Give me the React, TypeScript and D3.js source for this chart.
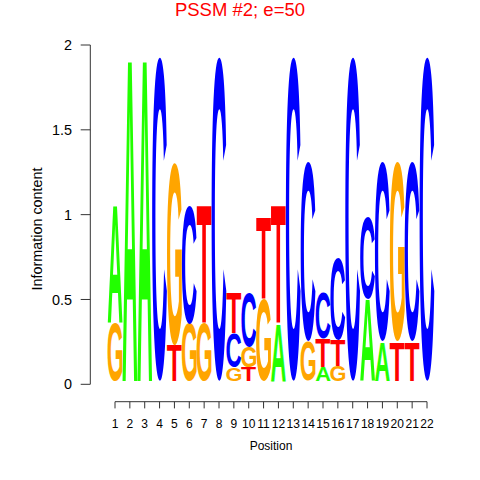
import React from "react";
import * as d3 from "d3";

// Sequence logo data: letters per position, stacked bottom -> top, with heights (bits)
const positions = d3.range(1, 23);
const letters: string[][] = [
  ["G", "A"],
  ["A"],
  ["A"],
  ["C"],
  ["T", "G"],
  ["G", "C"],
  ["G", "T"],
  ["C"],
  ["G", "C", "T"],
  ["T", "G", "C"],
  ["G", "T"],
  ["A", "T"],
  ["C"],
  ["G", "C"],
  ["A", "T", "C"],
  ["G", "T", "C"],
  ["C"],
  ["A", "C"],
  ["A", "C"],
  ["T", "G"],
  ["T", "C"],
  ["C"],
];
const heights: number[][] = [
  [0.34, 0.7],
  [1.91],
  [1.91],
  [1.91],
  [0.21, 1.075],
  [0.34, 0.7],
  [0.34, 0.7],
  [1.91],
  [0.08, 0.2, 0.24],
  [0.08, 0.12, 0.32],
  [0.48, 0.48],
  [0.34, 0.7],
  [1.91],
  [0.23, 1.055],
  [0.08, 0.17, 0.27],
  [0.09, 0.15, 0.48],
  [1.91],
  [0.48, 0.48],
  [0.23, 1.055],
  [0.23, 1.055],
  [0.23, 1.055],
  [1.91],
];
const yTicks = [0, 0.5, 1, 1.5, 2];
const yTickLabels = ["0", "0.5", "1", "1.5", "2"];
const title = "PSSM #2; e=50";
const xLabel = "Position";
const yLabel = "Information content";

const colors: Record<string, string> = {
  A: "#22ff00",
  C: "#0000ff",
  G: "#ffa500",
  T: "#ff0000",
};

const FONT = '"Liberation Sans", Arial, Helvetica, sans-serif';

type Ink = { x0: number; x1: number; y0: number; y1: number };
const inkCache: Record<string, Ink> = {};
function ink(ch: string): Ink {
  if (inkCache[ch]) return inkCache[ch];
  const c = document.createElement("canvas");
  const ctx = c.getContext("2d")!;
  ctx.font = `bold 100px ${FONT}`;
  const m = ctx.measureText(ch);
  const r = {
    x0: -m.actualBoundingBoxLeft,
    x1: m.actualBoundingBoxRight,
    y0: -m.actualBoundingBoxAscent,
    y1: m.actualBoundingBoxDescent,
  };
  inkCache[ch] = r;
  return r;
}

export default function App() {
  const W = 480;
  const H = 480;
  const x = d3.scaleLinear().domain([1, 22]).range([115, 427]);
  const y = d3.scaleLinear().domain([0, 2]).range([384.3, 45]);
  const step = x(2) - x(1);
  const base = y(0) - 3.4;
  const unit = y(0) - y(1);

  const glyphs: React.ReactNode[] = [];
  positions.forEach((p, i) => {
    let cum = 0;
    letters[i].forEach((ch, j) => {
      const h = heights[i][j] * unit;
      const bottom = base - cum * unit;
      cum += heights[i][j];
      const top = bottom - h;
      const left = x(p) - step / 2;
      const b = ink(ch);
      const sx = step / (b.x1 - b.x0);
      const sy = h / (b.y1 - b.y0);
      glyphs.push(
        <text
          key={`${i}-${j}`}
          x={0}
          y={0}
          fontFamily={FONT}
          fontWeight="bold"
          fontSize={100}
          fill={colors[ch]}
          transform={`translate(${left},${top}) scale(${sx},${sy}) translate(${-b.x0},${-b.y0})`}
        >
          {ch}
        </text>
      );
    });
  });

  const axisY = 401.7;
  const yAxisX = 90.3;

  return (
    <svg
      width={W}
      height={H}
      style={{ position: "absolute", left: 0, top: 0, background: "#fff" }}
      fontFamily={FONT}
    >
      <rect width={W} height={H} fill="#fff" />
      <text x={240} y={15.6} textAnchor="middle" fontSize={18.5} fill="#ff0000">
        {title}
      </text>
      {glyphs}
      {/* y axis */}
      <line x1={yAxisX} x2={yAxisX} y1={y(0)} y2={y(2)} stroke="#333" strokeWidth={1} />
      {yTicks.map((t, i) => (
        <g key={t}>
          <line x1={yAxisX - 9.6} x2={yAxisX} y1={y(t)} y2={y(t)} stroke="#333" strokeWidth={1} />
          <text x={72} y={y(t)} dy="0.36em" textAnchor="end" fontSize={14.4} fill="#000">
            {yTickLabels[i]}
          </text>
        </g>
      ))}
      <text
        transform={`translate(42,229) rotate(-90)`}
        textAnchor="middle"
        fontSize={14.4}
        fill="#000"
      >
        {yLabel}
      </text>
      {/* x axis */}
      <line x1={x(1)} x2={x(22)} y1={axisY} y2={axisY} stroke="#333" strokeWidth={1} />
      {positions.map((p) => (
        <g key={p}>
          <line x1={x(p)} x2={x(p)} y1={axisY} y2={axisY + 6.7} stroke="#333" strokeWidth={1} />
          <text x={x(p)} y={428} textAnchor="middle" fontSize={12} fill="#000">
            {p}
          </text>
        </g>
      ))}
      <text x={(x(1) + x(22)) / 2} y={449.5} textAnchor="middle" fontSize={12} fill="#000">
        {xLabel}
      </text>
    </svg>
  );
}
